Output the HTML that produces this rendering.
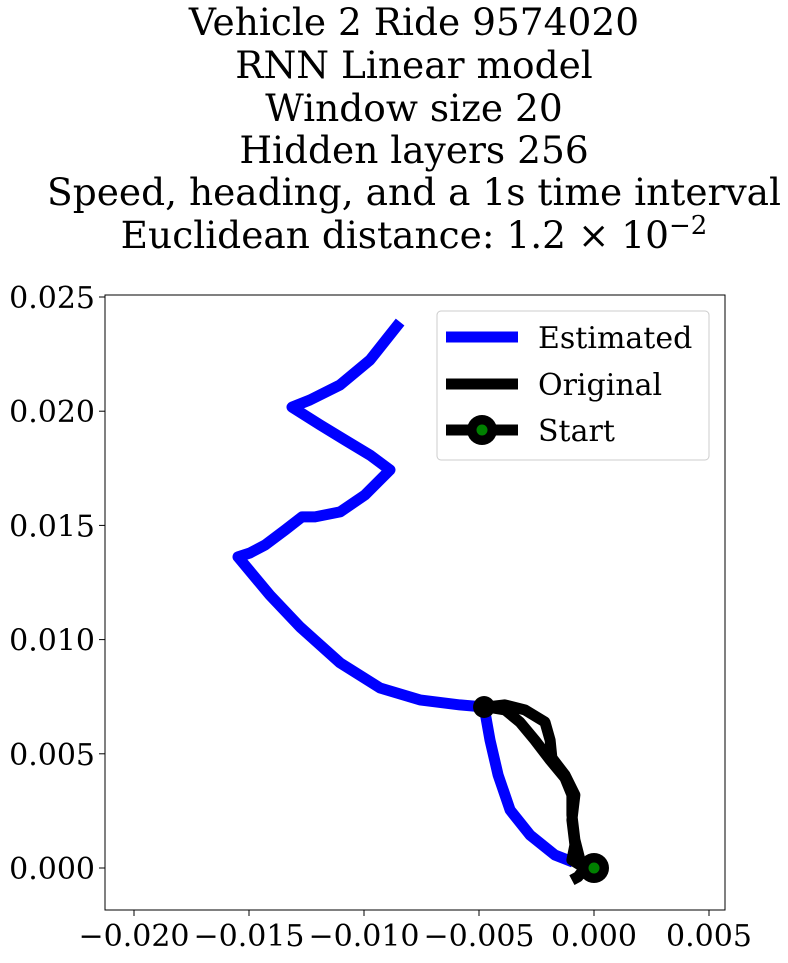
<!DOCTYPE html>
<html><head><meta charset="utf-8"><style>
body{margin:0;background:#fff;width:788px;height:958px;overflow:hidden}
svg text{font-family:"DejaVu Serif","Liberation Serif",serif;fill:#000}
</style></head><body>
<svg id="chart" width="788" height="958" viewBox="0 0 788 958" xmlns="http://www.w3.org/2000/svg">
<g font-size="37.5" text-anchor="middle">
<text x="414" y="35">Vehicle 2 Ride 9574020</text>
<text x="414" y="78">RNN Linear model</text>
<text x="414" y="121">Window size 20</text>
<text x="414" y="163">Hidden layers 256</text>
<text x="414" y="205">Speed, heading, and a 1s time interval</text>
<text x="414" y="248">Euclidean distance: 1.2 × 10<tspan dy="-14" font-size="26">−2</tspan></text>
</g>
<g id="plot"></g>
</svg>
<script>
const xTicks=[-0.020,-0.015,-0.010,-0.005,0.000,0.005];
const yTicks=[0.000,0.005,0.010,0.015,0.020,0.025];
const xTickLabels=["−0.020","−0.015","−0.010","−0.005","0.000","0.005"];
const yTickLabels=["0.000","0.005","0.010","0.015","0.020","0.025"];
const estX=[-8.43,-9.74,-11.04,-12.35,-13.13,-11.91,-10.83,-9.74,-8.87,-9.96,-11.04,-12.13,-12.70,-13.43,-14.30,-14.96,-15.48,-14.09,-12.78,-11.04,-9.30,-7.57,-5.83,-4.78,-4.52,-4.17,-3.65,-2.78,-1.70,-0.91].map(v=>v/1000);
const estY=[23.9,22.24,21.15,20.49,20.18,19.40,18.74,18.08,17.43,16.33,15.59,15.37,15.37,14.80,14.14,13.79,13.62,11.95,10.55,8.98,7.88,7.36,7.14,7.05,5.60,4.07,2.54,1.44,0.57,0.26].map(v=>v/1000);
const origX=[0,-0.61,-0.83,-0.96,-0.96,-1.26,-1.91,-2.57,-3.22,-3.87,-4.65,-3.87,-3.00,-2.13,-1.91,-1.83,-1.26,-0.83,-0.96,-0.83,-0.96,-0.39,-0.70,-0.96].map(v=>v/1000);
const origY=[0,0.35,1.23,2.32,3.20,3.94,4.73,5.60,6.39,6.92,7.05,7.14,6.92,6.39,5.60,4.82,4.07,3.20,2.10,1.01,0.35,0,-0.39,-0.53].map(v=>v/1000);
const startPt=[0,0];
const endPt=[-0.00478,0.00705];

const L=105,R=725,T=295,B=910;
const sx=v=>594+v*23000;
const sy=v=>868-v*22840;
const NS="http://www.w3.org/2000/svg";
const g=document.getElementById('plot');
function mk(t,a){const e=document.createElementNS(NS,t);for(const k in a)e.setAttribute(k,a[k]);g.appendChild(e);return e;}
const defs=mk('defs',{});
const cp=document.createElementNS(NS,'clipPath');cp.setAttribute('id','clip');
const cr=document.createElementNS(NS,'rect');cr.setAttribute('x',L);cr.setAttribute('y',T);cr.setAttribute('width',R-L);cr.setAttribute('height',B-T);
cp.appendChild(cr);defs.appendChild(cp);

const pts=(xs,ys)=>xs.map((x,i)=>sx(x).toFixed(1)+','+sy(ys[i]).toFixed(1)).join(' ');
let e=mk('polyline',{points:pts(estX,estY),fill:'none',stroke:'#0000ff','stroke-width':11,'stroke-linejoin':'round','clip-path':'url(#clip)'});


e=mk('polyline',{points:pts(origX,origY),fill:'none',stroke:'#000','stroke-width':11,'stroke-linejoin':'round','clip-path':'url(#clip)'});


e=mk('circle',{cx:sx(endPt[0]),cy:sy(endPt[1]),r:11,fill:'#000'});


e=mk('circle',{cx:sx(startPt[0]),cy:sy(startPt[1]),r:15,fill:'#000'});


mk('circle',{cx:sx(startPt[0]),cy:sy(startPt[1]),r:5.5,fill:'#008000'});

e=mk('rect',{x:L,y:T,width:R-L,height:B-T,fill:'none',stroke:'#000','stroke-width':1});


xTicks.forEach((v,i)=>{
  mk('line',{x1:sx(v),x2:sx(v),y1:B,y2:B+6,stroke:'#000'});
  const t=mk('text',{x:sx(v),y:B+36,'font-size':30,'text-anchor':'middle'});t.textContent=xTickLabels[i];
  
  
});
yTicks.forEach((v,i)=>{
  mk('line',{x1:L-6,x2:L,y1:sy(v),y2:sy(v),stroke:'#000'});
  const t=mk('text',{x:L-10,y:sy(v)+11,'font-size':30,'text-anchor':'end'});t.textContent=yTickLabels[i];
  
  
});
e=mk('rect',{x:437,y:311,width:272,height:149,rx:4,fill:'#fff',stroke:'#ccc','stroke-width':1});


const leg=[['Estimated','#0000ff',337,false],['Original','#000',384,false],['Start','#000',430,true]];
leg.forEach(([lab,c,y,m])=>{
  mk('line',{x1:446,x2:518,y1:y,y2:y,stroke:c,'stroke-width':11});
  if(m){mk('circle',{cx:482,cy:y,r:15,fill:'#000'});mk('circle',{cx:482,cy:y,r:5.5,fill:'#008000'});}
  const t=mk('text',{x:538,y:y+11,'font-size':30});t.textContent=lab;
  
  
});
</script>
</body></html>
